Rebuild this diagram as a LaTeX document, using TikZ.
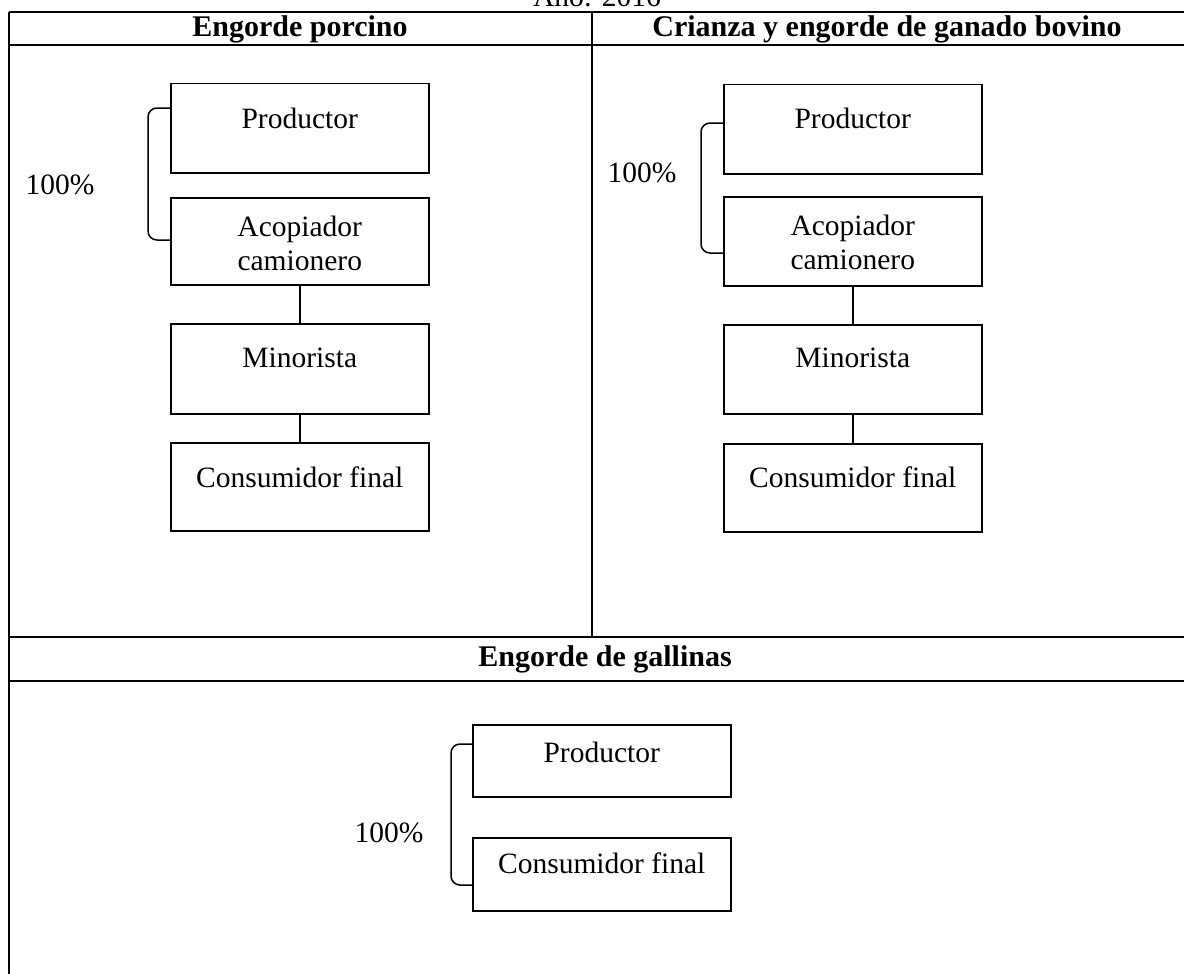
\documentclass[tikz,border=0pt]{standalone}
\usepackage{fontspec}
\setmainfont{Liberation Serif}
\usetikzlibrary{calc}
\begin{document}
\begin{tikzpicture}[x=1pt,y=-1pt,
  box/.style={draw, line width=1.5pt, minimum width=258pt, inner sep=0pt},
  rule/.style={line width=2pt},
  lbl/.style={font=\fontsize{29.5}{34}\selectfont, align=center, inner sep=0pt},
  head/.style={font=\fontsize{30}{34}\selectfont\bfseries, inner sep=0pt},
  link/.style={line width=1.5pt},
  brk/.style={line width=1.5pt, rounded corners=9pt}]
\clip (0,0) rectangle (1184,974);
\fill[white] (0,0) rectangle (1184,974);
% title (cut off at top, as in the reference)
\node[lbl, anchor=base] (title) at (597,7) {Año: 2016};
% table rules
\draw[rule] (9,12) -- (1190,12);
\draw[rule] (9,45) -- (1190,45);
\draw[rule] (9,637) -- (1190,637);
\draw[rule] (9,681) -- (1190,681);
\draw[rule] (9,12) -- (9,980);
\draw[rule] (592,12) -- (592,637);
% headers
\node[head] (h1) at (300,29) {Engorde porcino};
\node[head] (h2) at (887,29) {Crianza y engorde de ganado bovino};
\node[head] (h3) at (605,659) {Engorde de gallinas};
% left panel
\node[box, minimum height=89pt, anchor=north west,
  label={[lbl,anchor=north,yshift=-25pt]north:Productor}] (lp) at (170,83) {};
\node[box, minimum height=87pt, anchor=north west,
  label={[lbl,anchor=north,yshift=-19pt]north:Acopiador\\camionero}] (la) at (170,197) {};
\node[box, minimum height=90pt, anchor=north west,
  label={[lbl,anchor=north,yshift=-25pt]north:Minorista}] (lm) at (170,323) {};
\node[box, minimum height=88pt, anchor=north west,
  label={[lbl,anchor=north,yshift=-25pt]north:Consumidor final}] (lc) at (170,442) {};
\draw[link] (la) -- (lm);
\draw[link] (lm) -- (lc);
\draw[brk] ($(lp.north west)+(0,25)$) -- ++(-22,0) |- ($(la.north west)+(0,43)$);
\node[lbl] (lpct) at (60,185) {100\%};
% right panel
\node[box, minimum height=89pt, anchor=north west,
  label={[lbl,anchor=north,yshift=-24pt]north:Productor}] (rp) at (723,84) {};
\node[box, minimum height=89pt, anchor=north west,
  label={[lbl,anchor=north,yshift=-19pt]north:Acopiador\\camionero}] (ra) at (723,196) {};
\node[box, minimum height=89pt, anchor=north west,
  label={[lbl,anchor=north,yshift=-24pt]north:Minorista}] (rm) at (723,324) {};
\node[box, minimum height=88pt, anchor=north west,
  label={[lbl,anchor=north,yshift=-24pt]north:Consumidor final}] (rc) at (723,443) {};
\draw[link] (ra) -- (rm);
\draw[link] (rm) -- (rc);
\draw[brk] ($(rp.north west)+(0,39)$) -- ++(-22,0) |- ($(ra.north west)+(0,57)$);
\node[lbl] (rpct) at (642,173) {100\%};
% bottom panel
\node[box, minimum height=72pt, anchor=north west,
  label={[lbl,anchor=north,yshift=-18pt]north:Productor}] (bp) at (472,724) {};
\node[box, minimum height=73pt, anchor=north west,
  label={[lbl,anchor=north,yshift=-16pt]north:Consumidor final}] (bc) at (472,837) {};
\draw[brk] ($(bp.north west)+(0,20)$) -- ++(-21,0) |- ($(bc.north west)+(0,48)$);
\node[lbl] (bpct) at (389,833) {100\%};
\end{tikzpicture}
\end{document}
